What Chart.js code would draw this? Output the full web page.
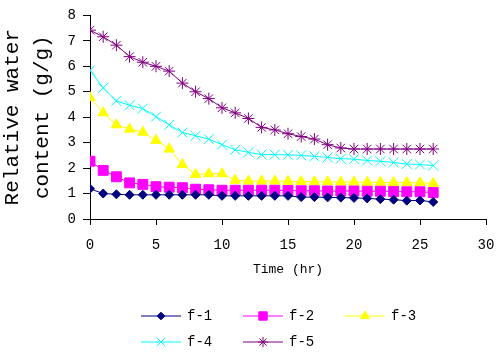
<!DOCTYPE html>
<html>
<head>
<meta charset="utf-8">
<script src="https://cdn.jsdelivr.net/npm/chart.js@4/dist/chart.umd.min.js"></script>
<style>
  html, body { margin: 0; padding: 0; background: #fff; }
  #wrap { width: 500px; height: 354px; position: relative; }
</style>
</head>
<body>
<div id="wrap"><canvas id="water"></canvas></div>
<script>
// time (hr)
const hours = [0, 1, 2, 3, 4, 5, 6, 7, 8, 9, 10, 11, 12, 13, 14, 15, 16, 17, 18, 19, 20, 21, 22, 23, 24, 25, 26]
const f1 = [1.19, 1.0, 0.97, 0.95, 0.95, 0.95, 0.95, 0.95, 0.95, 0.95, 0.91, 0.91, 0.91, 0.91, 0.91, 0.91, 0.86, 0.86, 0.85, 0.84, 0.83, 0.81, 0.78, 0.76, 0.72, 0.73, 0.67]
const f2 = [2.27, 1.91, 1.66, 1.42, 1.36, 1.27, 1.25, 1.23, 1.17, 1.15, 1.13, 1.13, 1.13, 1.13, 1.13, 1.12, 1.11, 1.11, 1.10, 1.10, 1.10, 1.09, 1.09, 1.08, 1.07, 1.07, 1.04]
const f3 = [4.77, 4.17, 3.70, 3.53, 3.41, 3.09, 2.75, 2.14, 1.75, 1.78, 1.78, 1.52, 1.49, 1.49, 1.49, 1.48, 1.47, 1.46, 1.46, 1.45, 1.45, 1.44, 1.44, 1.43, 1.43, 1.42, 1.40]
const f4 = [5.84, 5.15, 4.64, 4.47, 4.34, 4.02, 3.70, 3.40, 3.27, 3.14, 2.92, 2.72, 2.62, 2.53, 2.53, 2.52, 2.50, 2.46, 2.42, 2.37, 2.35, 2.30, 2.27, 2.22, 2.16, 2.14, 2.10]
const f5 = [7.42, 7.16, 6.83, 6.38, 6.16, 6.00, 5.81, 5.34, 5.00, 4.73, 4.37, 4.17, 3.95, 3.60, 3.50, 3.35, 3.24, 3.14, 2.92, 2.79, 2.75, 2.75, 2.75, 2.75, 2.75, 2.75, 2.75]
const seriesNames = ['f-1', 'f-2', 'f-3', 'f-4', 'f-5']

const FONT = '"Liberation Mono", "DejaVu Sans Mono", monospace'

function pts(vals) {
  return vals.map((v, i) => ({ x: hours[i], y: v }))
}

function series(label, vals, color, style, radius) {
  return {
    label: label,
    data: pts(vals),
    borderColor: color,
    backgroundColor: color,
    borderWidth: 1,
    pointStyle: style,
    pointRadius: radius,
    pointHoverRadius: radius,
    pointBorderWidth: 1,
    pointBorderColor: color,
    pointBackgroundColor: color,
    tension: 0,
  }
}

// legend in two rows, left aligned like the original
const bottomLegend = {
  id: 'bottomLegend',
  afterDraw(chart) {
    const ctx = chart.ctx
    const rows = [[0, 1, 2], [3, 4]]
    const rowY = [316, 342]
    const colX = [141, 243, 345]
    ctx.save()
    rows.forEach((row, r) => {
      row.forEach((di, c) => {
        const ds = chart.data.datasets[di]
        const x0 = colX[c], y = rowY[r]
        ctx.strokeStyle = ds.borderColor
        ctx.lineWidth = 1
        ctx.beginPath()
        ctx.moveTo(x0, y)
        ctx.lineTo(x0 + 40, y)
        ctx.stroke()
        ctx.fillStyle = ds.backgroundColor
        Chart.helpers.drawPoint(ctx, {
          pointStyle: ds.pointStyle,
          radius: ds.pointRadius * 0.85,
          rotation: 0,
          borderWidth: 1,
        }, x0 + 20, y)
        ctx.fillStyle = '#000'
        ctx.font = '14px ' + FONT
        ctx.textBaseline = 'middle'
        ctx.textAlign = 'left'
        ctx.fillText(ds.label, x0 + 46, y)
      })
    })
    ctx.restore()
  }
}

const ctxWater = document.getElementById('water')
if(ctxWater) {
  const water = {
    type: 'line',
    data: {
      datasets: [
        series(seriesNames[0], f1, '#000080', 'rectRot', 4.5),
        series(seriesNames[1], f2, '#FF00FF', 'rect', 7),
        series(seriesNames[2], f3, '#FFFF00', 'triangle', 6),
        series(seriesNames[3], f4, '#00FFFF', 'crossRot', 7),
        series(seriesNames[4], f5, '#800080', 'star', 6),
      ],
    },
    options: {
      responsive: true,
      maintainAspectRatio: false,
      animation: false,
      layout: {
        padding: { top: 13, right: 14, bottom: 75, left: 0 },
      },
      plugins: {
        legend: { display: false },
        tooltip: { enabled: false },
      },
      scales: {
        x: {
          type: 'linear',
          min: 0,
          max: 30,
          ticks: { stepSize: 5, color: '#000', padding: 12, font: { family: FONT, size: 14 } },
          grid: { drawOnChartArea: false, tickLength: 6, color: '#000' },
          border: { color: '#000', width: 1 },
          title: {
            display: true,
            text: 'Time (hr)',
            color: '#000',
            font: { family: FONT, size: 13 },
            padding: { top: 0, bottom: 2 },
          },
          afterFit(scale) {
            scale.height = 60
            scale.paddingRight = 0
            scale.paddingLeft = 0
          },
        },
        y: {
          min: 0,
          max: 8,
          ticks: { stepSize: 1, color: '#000', padding: 7, font: { family: FONT, size: 14 } },
          grid: { drawOnChartArea: false, tickLength: 7, color: '#000' },
          border: { color: '#000', width: 1 },
          title: {
            display: true,
            text: ['Relative water', 'content (g/g)'],
            color: '#000',
            font: { family: FONT, size: 21, lineHeight: 1.43 },
            padding: { top: -3, bottom: 0 },
          },
          afterFit(scale) { scale.width = 90 },
        },
      },
    },
    plugins: [bottomLegend],
  }

  window.myLine = new Chart(ctxWater, water)
}
</script>
</body>
</html>
